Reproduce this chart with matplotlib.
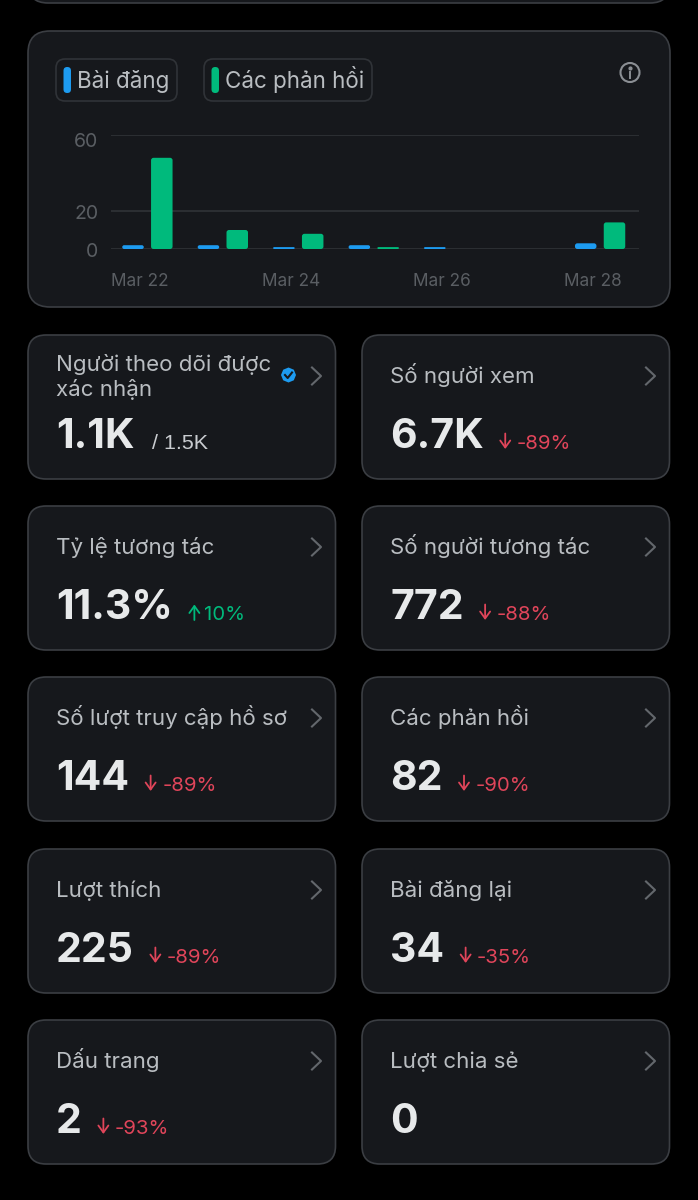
import matplotlib
matplotlib.use("Agg")
import matplotlib.pyplot as plt
from matplotlib.patches import FancyBboxPatch, Circle, RegularPolygon
from matplotlib.transforms import ScaledTranslation

plt.rcParams['font.family'] = ['Inter', 'DejaVu Sans']

# chart data
days = [0, 1, 2, 3, 4, 5, 6]
posts = [2, 2, 1, 2, 1, 0, 3]
replies = [48, 10, 8, 1, 0, 0, 14]
y_ticks = [0, 20, 60]
x_tick_days = [0, 2, 4, 6]
x_tick_labels = ['Mar 22', 'Mar 24', 'Mar 26', 'Mar 28']
legend_labels = ['Bài đăng', 'Các phản hồi']

# metric cards, left then right in each row
card_labels = ['Người theo dõi được\nxác nhận', 'Số người xem',
               'Tỷ lệ tương tác', 'Số người tương tác',
               'Số lượt truy cập hồ sơ', 'Các phản hồi',
               'Lượt thích', 'Bài đăng lại',
               'Dấu trang', 'Lượt chia sẻ']
card_values = ['1.1K', '6.7K', '11.3%', '772', '144', '82', '225', '34', '2', '0']
card_deltas = ['/ 1.5K', '-89%', '10%', '-88%', '-89%', '-90%', '-89%', '-35%', '-93%', None]

BG = '#000000'
CARD = '#16181c'
EDGE = '#3b3e43'
LABEL = '#b9bdc1'
VALUE = '#e7e9ea'
MUTED = '#5a5e63'
GRID = '#2c2f33'
BLUE = '#1d9bf0'
GREEN = '#00ba7c'
RED = '#e0455a'

fig = plt.figure(figsize=(6.98, 12), dpi=100, facecolor=BG)
bg = fig.add_axes([0, 0, 1, 1])
bg.set_xlim(0, 698)
bg.set_ylim(1200, 0)
bg.axis('off')


def px(size):
    return size * 0.72


def rbox(x0, y0, x1, y1, r, fc, ec, lw=1.2, z=1):
    bg.add_patch(FancyBboxPatch((x0 + r, y0 + r), x1 - x0 - 2 * r, y1 - y0 - 2 * r,
                                boxstyle=f'round,pad={r},rounding_size={r}',
                                fc=fc, ec=ec, lw=lw, zorder=z))


def chevron(x, y):
    bg.plot([x - 4, x + 5, x - 4], [y - 8.5, y, y + 8.5], color='#63676c', lw=1.5, zorder=3)


# cut off card at the very top and main chart card
rbox(28, -40, 670, 3, 20, CARD, EDGE)
rbox(28, 31, 670, 307, 22, CARD, EDGE)

# legend chips
chips = [(56, 177, BLUE), (204, 372, GREEN)]
for (x0, x1, col), name in zip(chips, legend_labels):
    rbox(x0, 59, x1, 101, 9, CARD, '#303338', z=2)
    rbox(x0 + 7.5, 67, x0 + 15, 93, 3.7, col, col, lw=0, z=3)
    bg.text(x0 + 21, 88, name, color=LABEL, fontsize=px(22.4), va='baseline', ha='left', zorder=3)

# info icon
bg.add_patch(Circle((630, 72.5), 9.5, fc='none', ec='#8b8f94', lw=1.5, zorder=3))
bg.plot([630, 630], [71.5, 77.5], color='#8b8f94', lw=1.4, zorder=3)
bg.plot([630], [67.8], 'o', color='#8b8f94', ms=2, zorder=3)

# bars, axes box spans the gridlines: y 60 at px 135, y 0 at px 249
ax = fig.add_axes([111 / 698, 1 - 249 / 1200, (639 - 111) / 698, (249 - 135) / 1200], zorder=2)
ax.patch.set_alpha(0)
day_px = 75.45
unit_px = 114 / 60
x_left = (147.4 - 111) / day_px
ax.set_xlim(-x_left, (639 - 111) / day_px - x_left)
ax.set_ylim(0, 60)
offset = 14.4 / day_px
width = 21.5 / day_px
for vals, col, sign in [(posts, BLUE, -1), (replies, GREEN, 1)]:
    xs = [d + sign * offset for d, v in zip(days, vals) if v > 0]
    hs = [v for v in vals if v > 0]
    bars = ax.bar(xs, hs, width, color=col, zorder=3)
    # swap each bar for a rounded box of the same size
    for b in bars:
        b.set_visible(False)
        r = min(2.5, b.get_height() * unit_px / 2)
        ax.add_patch(FancyBboxPatch((b.get_x(), 0), b.get_width(), b.get_height(),
                                    boxstyle=f'round,pad=0,rounding_size={r / day_px}',
                                    mutation_aspect=day_px / unit_px,
                                    fc=col, ec='none', zorder=3))
ax.set_yticks(y_ticks)
ax.set_yticklabels([str(t) for t in y_ticks], color=MUTED, fontsize=px(19.5))
ax.set_xticks([d - 7.4 / day_px for d in x_tick_days])
ax.set_xticklabels(x_tick_labels, color=MUTED, fontsize=px(17.2))
ax.tick_params(axis='both', length=0)
ax.tick_params(axis='x', pad=17)
ax.tick_params(axis='y', pad=9)
# the y labels sit a little under their gridlines
for lab, shift in zip(ax.get_yticklabels(), [1, 1, 5]):
    lab.set_transform(lab.get_transform() + ScaledTranslation(0, -shift / 100, fig.dpi_scale_trans))
ax.grid(axis='y', color=GRID, lw=1.4, zorder=1)
ax.set_axisbelow(True)
for s in ax.spines.values():
    s.set_visible(False)

# metric cards
row_tops = [335, 506, 677, 849, 1020]
col_lefts = [28, 362]
fig.canvas.draw()
renderer = fig.canvas.get_renderer()
inv = bg.transData.inverted()

for i, (name, val, delta) in enumerate(zip(card_labels, card_values, card_deltas)):
    top = row_tops[i // 2]
    left = col_lefts[i % 2]
    rbox(left, top, left + 307.5, top + 144, 18, CARD, EDGE)
    chevron(left + 288, top + 41)
    lines = name.split('\n')
    line_y = [top + 48] if len(lines) == 1 else [top + 36, top + 61]
    for line, y in zip(lines, line_y):
        bg.text(left + 28, y, line, color=LABEL, fontsize=px(22.3),
                va='baseline', ha='left', zorder=3)
    v = bg.text(left + 28, top + 113, val, color=VALUE, fontsize=px(41),
                fontweight='bold', va='baseline', ha='left', zorder=3)
    if delta is None:
        continue
    end = inv.transform(v.get_window_extent(renderer))[1][0]
    base = top + 114
    if delta.startswith('/'):
        bg.text(end + 17, base, delta, color='#c9ccd0', fontsize=px(21.5),
                family=['Liberation Sans'], va='baseline', ha='left', zorder=3)
        continue
    col = GREEN if not delta.startswith('-') else RED
    arrow_x = end + 21.5
    ys = (base - 15.5, base) if delta.startswith('-') else (base, base - 15.5)
    bg.annotate('', xy=(arrow_x, ys[1]), xytext=(arrow_x, ys[0]),
                arrowprops=dict(arrowstyle='->,head_width=0.36,head_length=0.5', color=col, lw=1.3,
                                shrinkA=0, shrinkB=0), zorder=3)
    bg.text(arrow_x + 11.5 if delta.startswith('-') else arrow_x + 10, base, delta, color=col,
            fontsize=px(20.4), va='baseline', ha='left', zorder=3)

# verified badge on first card
bg.add_patch(RegularPolygon((288.5, 375), 8, radius=7.5, fc=BLUE, ec='none', zorder=3))
bg.plot([285, 287.7, 292], [375, 378, 372.5], color=CARD, lw=1.5, zorder=4)

fig.savefig('out.png', dpi=100, facecolor=BG)
